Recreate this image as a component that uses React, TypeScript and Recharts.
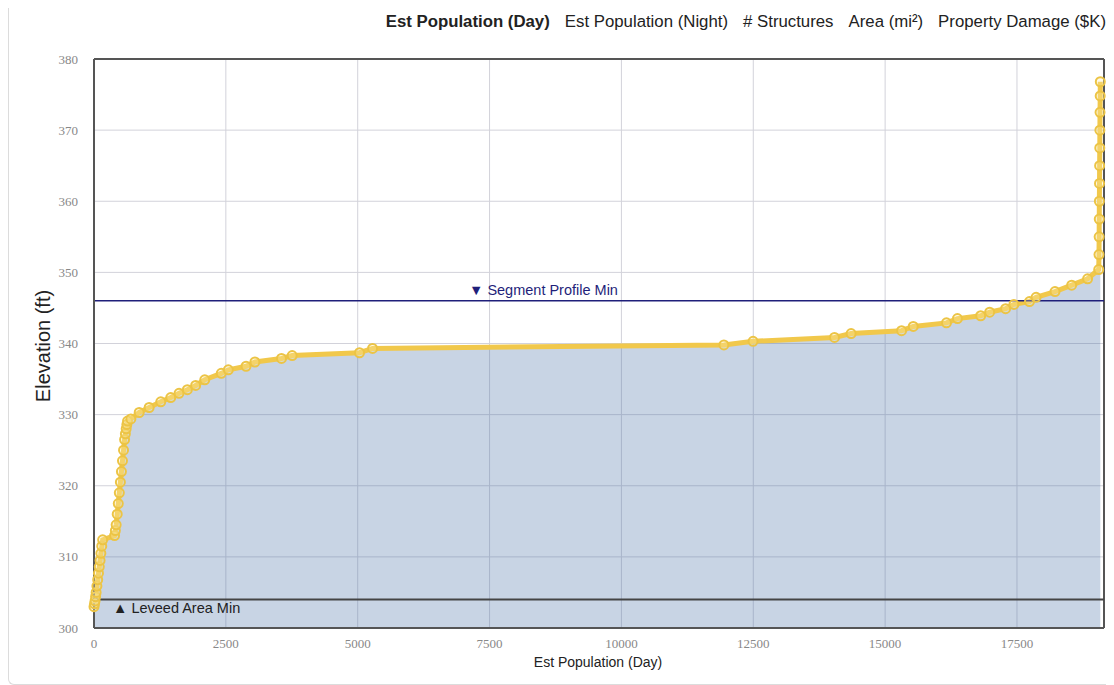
import React from "react";
import {
  ComposedChart,
  Area,
  XAxis,
  YAxis,
  CartesianGrid,
  ReferenceLine,
} from "recharts";

// Est Population (Day) vs ground elevation (ft)
const popDay = [
  0, 10, 20, 30, 40, 55, 70, 85, 100, 115, 130, 147, 164, 390, 405, 420, 440,
  460, 480, 500, 520, 540, 560, 580, 595, 610, 623, 636, 699, 857, 1046, 1266,
  1455, 1612, 1770, 1927, 2100, 2413, 2547, 2883, 3051, 3555, 3757, 5034, 5282,
  11943, 12496, 14040, 14355, 15312, 15533, 16163, 16371, 16812, 16982, 17284,
  17441, 17737, 17862, 18221, 18537, 18839, 19050, 19055, 19058, 19060, 19062,
  19065, 19067, 19070, 19072, 19075, 19078, 19080,
];
const elevation = [
  303, 303.4, 303.8, 304.4, 305, 305.9, 306.8, 307.7, 308.6, 309.5, 310.5,
  311.5, 312.4, 313, 313.7, 314.5, 316, 317.5, 319, 320.5, 322, 323.5, 325,
  326.5, 327.3, 328, 328.6, 329.1, 329.4, 330.3, 331, 331.8, 332.4, 333, 333.5,
  334.1, 334.9, 335.8, 336.3, 336.8, 337.4, 337.9, 338.3, 338.7, 339.3, 339.8,
  340.3, 340.85, 341.4, 341.8, 342.4, 342.9, 343.5, 343.9, 344.4, 344.9, 345.5,
  345.9, 346.5, 347.3, 348.2, 349.1, 350.4, 352.5, 355, 357.5, 360, 362.5, 365,
  367.5, 370, 372.5, 374.8, 376.8,
];

const xTicks = [0, 2500, 5000, 7500, 10000, 12500, 15000, 17500];
const yTicks = [300, 310, 320, 330, 340, 350, 360, 370, 380];
const X_DOMAIN_MAX = 19150;

const legendItems = [
  "Est Population (Day)",
  "Est Population (Night)",
  "# Structures",
  "Area (mi²)",
  "Property Damage ($K)",
];

const segmentProfileMin = 346;
const leveedAreaMin = 304;

const data = popDay.map((x, i) => ({ x, y: elevation[i] }));

const SANS = "'Liberation Sans', Arial, Helvetica, sans-serif";
const SERIF = "'Liberation Serif', 'Times New Roman', serif";

const segmentLabel = (props: any) => {
  const { viewBox } = props;
  return (
    <text
      x={viewBox.x + 375}
      y={viewBox.y - 6}
      fill="#1f1f7a"
      fontSize={14.5}
      fontFamily={SANS}
    >
      ▼ Segment Profile Min
    </text>
  );
};

const leveedLabel = (props: any) => {
  const { viewBox } = props;
  return (
    <text
      x={viewBox.x + 19}
      y={viewBox.y + 13}
      fill="#222"
      fontSize={14.5}
      fontFamily={SANS}
    >
      ▲ Leveed Area Min
    </text>
  );
};

export default function App(): JSX.Element {
  return (
    <div
      style={{
        position: "relative",
        width: 1105,
        height: 676,
        borderLeft: "1px solid #dcdcdc",
        borderBottom: "1px solid #dcdcdc",
        borderBottomLeftRadius: 6,
        background: "#fff",
      }}
    >
      {/* legend, top right */}
      <div
        style={{
          position: "absolute",
          right: 8,
          top: 4,
          display: "flex",
          gap: 15,
          fontFamily: SANS,
          fontSize: 16.8,
          color: "#222",
          whiteSpace: "nowrap",
        }}
      >
        {legendItems.map((item, i) => (
          <span key={item} style={{ fontWeight: i === 0 ? "bold" : "normal" }}>
            {item}
          </span>
        ))}
      </div>

      <ComposedChart
        width={1105}
        height={676}
        data={data}
        margin={{ top: 51, right: 10, bottom: 26, left: 25 }}
      >
        <CartesianGrid stroke="#d2d2da" strokeWidth={1} />
        <XAxis
          type="number"
          dataKey="x"
          domain={[0, X_DOMAIN_MAX]}
          ticks={xTicks}
          height={30}
          axisLine={{ stroke: "#555", strokeWidth: 2 }}
          tickLine={false}
          tickMargin={5}
          tick={{ fill: "#888", fontSize: 13, fontFamily: SERIF }}
        />
        <YAxis
          type="number"
          domain={[300, 380]}
          ticks={yTicks}
          width={60}
          axisLine={{ stroke: "#555", strokeWidth: 2 }}
          tickLine={false}
          tickMargin={10}
          tick={{ fill: "#888", fontSize: 13, fontFamily: SERIF }}
        />
        <ReferenceLine y={380} stroke="#555" strokeWidth={2} />
        <ReferenceLine x={X_DOMAIN_MAX} stroke="#555" strokeWidth={2} />
        <Area
          type="linear"
          dataKey="y"
          baseValue={300}
          stroke="#f1c84b"
          strokeWidth={5}
          fill="#4a6fa5"
          fillOpacity={0.3}
          dot={{ r: 4.5, fill: "#fbefb4", stroke: "#ecc445", strokeWidth: 2 }}
          isAnimationActive={false}
        />
        <ReferenceLine
          y={segmentProfileMin}
          stroke="#1f1f7a"
          strokeWidth={1.5}
          label={segmentLabel}
        />
        <ReferenceLine
          y={leveedAreaMin}
          stroke="#444"
          strokeWidth={2}
          label={leveedLabel}
        />
      </ComposedChart>

      {/* axis titles */}
      <div
        style={{
          position: "absolute",
          left: 34,
          top: 338,
          transform: "translate(-50%, -50%) rotate(-90deg)",
          fontFamily: SANS,
          fontSize: 20,
          color: "#222",
          whiteSpace: "nowrap",
        }}
      >
        Elevation (ft)
      </div>
      <div
        style={{
          position: "absolute",
          left: 589,
          top: 654,
          transform: "translate(-50%, -50%)",
          fontFamily: SANS,
          fontSize: 14,
          color: "#222",
          whiteSpace: "nowrap",
        }}
      >
        Est Population (Day)
      </div>
    </div>
  );
}
